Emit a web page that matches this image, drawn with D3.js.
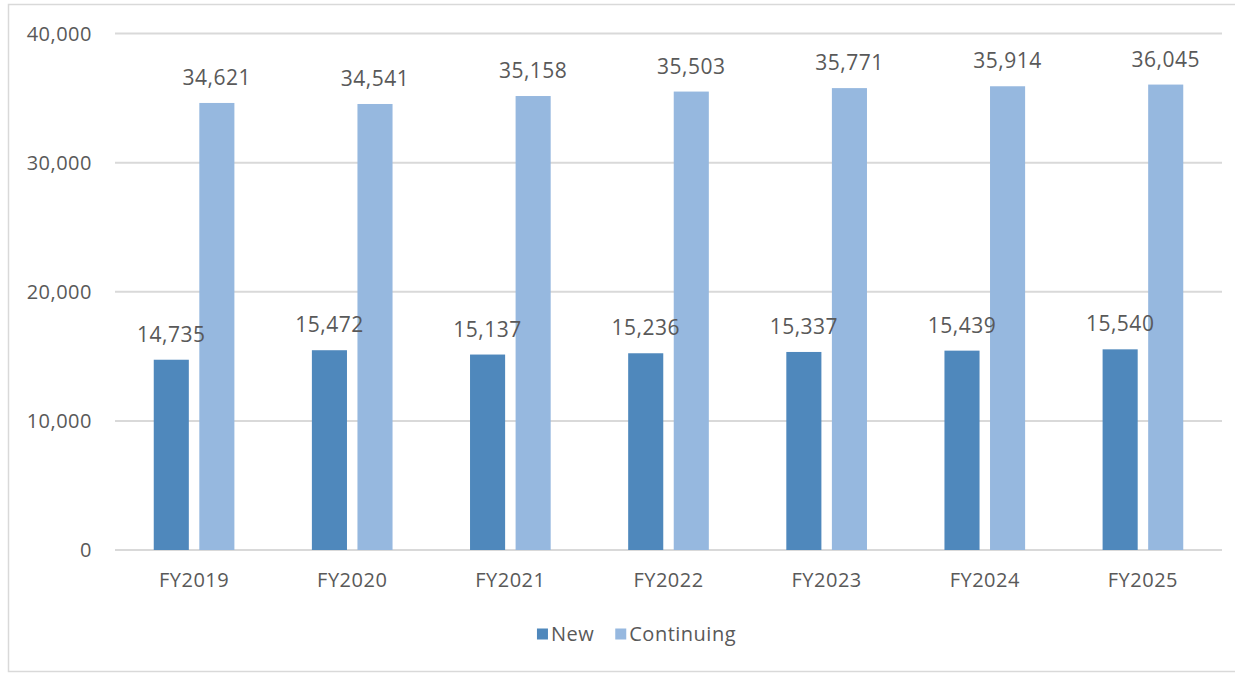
<!DOCTYPE html>
<html>
<head>
<meta charset="utf-8">
<script src="https://cdn.jsdelivr.net/npm/d3@7"></script>
<style>
  html, body { margin: 0; padding: 0; background: #ffffff; }
  svg { display: block; }
  text { font-family: "Open Sans", "Noto Sans", sans-serif; fill: #595959; letter-spacing: 0.5px; }
</style>
</head>
<body>
<svg id="chart" width="1235" height="675"></svg>
<script>
// Enrolment counts per fiscal year
const categories = ["FY2019", "FY2020", "FY2021", "FY2022", "FY2023", "FY2024", "FY2025"];
const newValues = [14735, 15472, 15137, 15236, 15337, 15439, 15540];
const continuingValues = [34621, 34541, 35158, 35503, 35771, 35914, 36045];
const seriesNames = ["New", "Continuing"];
const yTicks = [0, 10000, 20000, 30000, 40000];

const colors = { "New": "#4f88bc", "Continuing": "#96b8df" };

const svg = d3.select("#chart");
const plot = { left: 115, right: 1222, top: 33.5, bottom: 550 };

// Outer frame of the chart area
svg.append("rect")
  .attr("x", 8.5).attr("y", 4.5)
  .attr("width", 1260).attr("height", 667)
  .attr("fill", "none").attr("stroke", "#d9d9d9").attr("stroke-width", 1.5);

const y = d3.scaleLinear().domain([0, 40000]).range([plot.bottom, plot.top]);

const x0 = d3.scaleBand()
  .domain(categories)
  .range([plot.left, plot.right])
  .paddingInner(0.49)
  .paddingOuter(0.245);

const x1 = d3.scaleBand()
  .domain(seriesNames)
  .range([0, x0.bandwidth()])
  .paddingInner(0.23);

// Horizontal gridlines and y tick labels
const fmt = d3.format(",");
svg.append("g").selectAll("line").data(yTicks).join("line")
  .attr("x1", plot.left).attr("x2", plot.right)
  .attr("y1", d => y(d)).attr("y2", d => y(d))
  .attr("stroke", "#d9d9d9").attr("stroke-width", 2);

svg.append("g").selectAll("text").data(yTicks).join("text")
  .attr("x", 92).attr("y", d => y(d) + 7)
  .attr("text-anchor", "end")
  .attr("font-size", 20)
  .text(d => fmt(d));

// Bars grouped by year
const rows = categories.map((c, i) => ({
  cat: c,
  values: [
    { key: "New", value: newValues[i] },
    { key: "Continuing", value: continuingValues[i] }
  ]
}));

const groups = svg.append("g").selectAll("g").data(rows).join("g")
  .attr("transform", d => `translate(${x0(d.cat)},0)`);

groups.selectAll("rect").data(d => d.values).join("rect")
  .attr("x", d => x1(d.key))
  .attr("y", d => y(d.value))
  .attr("width", x1.bandwidth())
  .attr("height", d => y(0) - y(d.value))
  .attr("fill", d => colors[d.key]);

groups.selectAll("text.val").data(d => d.values).join("text")
  .attr("class", "val")
  .attr("x", d => x1(d.key) + x1.bandwidth() / 2)
  .attr("y", d => y(d.value) - 18)
  .attr("text-anchor", "middle")
  .attr("font-size", 21)
  .text(d => fmt(d.value));

// Category labels
svg.append("g").selectAll("text").data(categories).join("text")
  .attr("x", d => x0(d) + x0.bandwidth() / 2)
  .attr("y", 587)
  .attr("text-anchor", "middle")
  .attr("font-size", 20)
  .text(d => d);

// Legend
const legend = svg.append("g");
let lx = 0;
seriesNames.forEach(name => {
  const item = legend.append("g").attr("transform", `translate(${lx},0)`);
  item.append("rect")
    .attr("x", 0).attr("y", -12).attr("width", 11).attr("height", 11)
    .attr("fill", colors[name]);
  const t = item.append("text")
    .attr("x", 14).attr("y", 0)
    .attr("font-size", 20)
    .text(name);
  lx += 14 + t.node().getComputedTextLength() + 21;
});
const lw = legend.node().getBBox().width;
legend.attr("transform", `translate(${636.5 - lw / 2},640.5)`);
</script>
</body>
</html>
